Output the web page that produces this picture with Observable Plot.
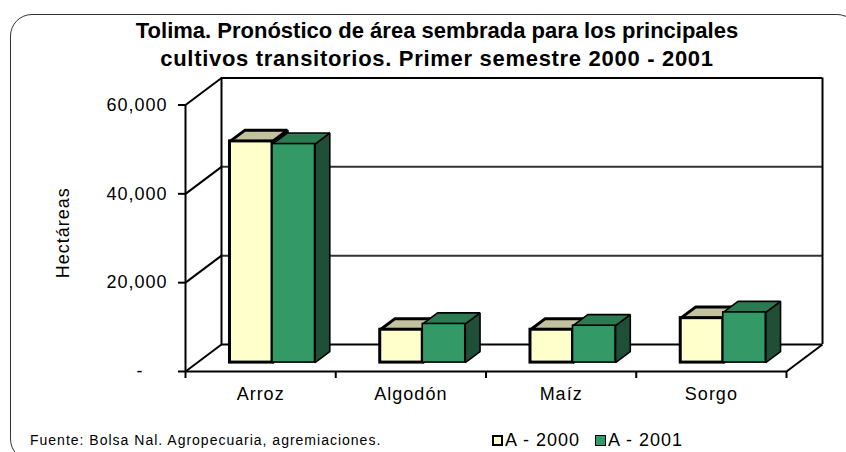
<!DOCTYPE html>
<html>
<head>
<meta charset="utf-8">
<script src="https://cdn.jsdelivr.net/npm/d3@7"></script>
<script src="https://cdn.jsdelivr.net/npm/@observablehq/plot@0.6"></script>
<style>
html, body { margin: 0; padding: 0; background: #fff; overflow: hidden; }
#wrap { position: relative; width: 846px; height: 452px; overflow: hidden; font-family: "Liberation Sans", Arial, sans-serif; color: #000; }
#frame { position: absolute; left: 10px; top: 14px; width: 849px; height: 447px; border: 1.5px solid #333; border-radius: 22px; box-sizing: border-box; }
#chart { position: absolute; left: 0; top: 0; }
#title { position: absolute; left: 0; width: 874px; top: 17px; text-align: center; font-weight: bold; font-size: 22px; line-height: 28px; white-space: nowrap; }
#title .l2 { letter-spacing: 0.7px; }
#caption { position: absolute; left: 30px; top: 433px; font-size: 14px; line-height: 14px; letter-spacing: 1px; white-space: nowrap; }
#legend { position: absolute; left: 492px; top: 431px; font-size: 18px; line-height: 18px; letter-spacing: 1px; white-space: nowrap; display: flex; align-items: center; }
#legend .sw { display: inline-block; box-sizing: border-box; width: 11px; height: 11px; border: 1px solid #000; margin-right: 2px; }
#legend .item { display: inline-flex; align-items: center; margin-right: 15px; }
</style>
</head>
<body>
<div id="wrap">
  <div id="frame"></div>
  <div id="chart"></div>
  <div id="title"><span class="l1">Tolima. Pronóstico de área sembrada para los principales</span><br><span class="l2">cultivos transitorios. Primer semestre 2000 - 2001</span></div>
  <div id="caption">Fuente: Bolsa Nal. Agropecuaria, agremiaciones.</div>
  <div id="legend"></div>
</div>
<script>
// ---- data ----
const categories = ["Arroz", "Algodón", "Maíz", "Sorgo"];
const series = ["A - 2000", "A - 2001"];
const values2000 = [49800, 7400, 7400, 10000];
const values2001 = [49200, 8700, 8300, 11300];
const yTicks = [0, 20000, 40000, 60000];
const yMax = 60000;

// ---- styles ----
const frontColors = ["#FFFFCC", "#339966"];
const topColors = ["#C2C2A0", "#2A7A52"];
const sideColors = ["#808066", "#1F4F36"];
const outlineWidths = [3, 1.6];

// ---- layout (pixels) ----
const W = 846, H = 452;
const mL = 185, mR = 24, mT = 77.5, mB = 81;
const DXP = 36, DYP = 27;            // oblique depth of the floor, px
const n = categories.length;
const bandPx = (W - mL - mR - DXP) / n;
const DXu = DXP / bandPx;             // depth in x units
const pxPerUnit = (H - mT - mB - DYP) / yMax;
const DYu = DYP / pxPerUnit;          // depth in y units
const BAR_W = 0.283, FRONT = 0.33, DEPTH = 0.41;

const rows = categories.flatMap((c, i) => [values2000, values2001].map((vals, s) => {
  const fx = FRONT * DXu, fy = FRONT * DYu;
  const x1 = i + 0.5 - BAR_W + s * BAR_W + fx;
  const x2 = x1 + BAR_W;
  return {category: c, series: series[s], s, value: vals[i], x1, x2, y0: fy, y1: vals[i] + fy, bx: DEPTH * DXu, by: DEPTH * DYu, id: c + "|" + s};
}));

function topPoly(r) {
  return [
    {id: r.id, x: r.x1, y: r.y1},
    {id: r.id, x: r.x2, y: r.y1},
    {id: r.id, x: r.x2 + r.bx, y: r.y1 + r.by},
    {id: r.id, x: r.x1 + r.bx, y: r.y1 + r.by}
  ];
}
function sidePoly(r) {
  return [
    {id: r.id, x: r.x2, y: r.y0},
    {id: r.id, x: r.x2, y: r.y1},
    {id: r.id, x: r.x2 + r.bx, y: r.y1 + r.by},
    {id: r.id, x: r.x2 + r.bx, y: r.y0 + r.by}
  ];
}

const barMarks = [0, 1].flatMap(s => {
  const rs = rows.filter(r => r.s === s);
  const sw = outlineWidths[s];
  return [
    Plot.line(rs.flatMap(sidePoly), {x: "x", y: "y", z: "id", fill: sideColors[s], stroke: "#000", strokeWidth: sw, strokeLinejoin: "miter", curve: "linear-closed"}),
    Plot.line(rs.flatMap(topPoly), {x: "x", y: "y", z: "id", fill: topColors[s], stroke: "#000", strokeWidth: sw, strokeLinejoin: "miter", curve: "linear-closed"}),
    Plot.rect(rs, {x1: "x1", x2: "x2", y1: "y0", y2: "y1", fill: frontColors[s], stroke: "#000", strokeWidth: sw, strokeLinejoin: "miter"})
  ];
});

const chart = Plot.plot({
  width: W,
  height: H,
  marginLeft: mL,
  marginRight: mR,
  marginTop: mT,
  marginBottom: mB,
  style: {fontFamily: "'Liberation Sans', Arial, sans-serif", fontSize: "18px", letterSpacing: "1px", background: "transparent", color: "#000"},
  x: {type: "linear", domain: [0, n + DXu]},
  y: {type: "linear", domain: [0, yMax + DYu]},
  marks: [
    // back wall gridlines
    Plot.ruleY(yTicks.filter(t => t > 0 && t < yMax), {y: d => d + DYu, x1: DXu, x2: n + DXu, stroke: "#333", strokeWidth: 2}),
    Plot.ruleY([0, yMax], {y: d => d + DYu, x1: DXu, x2: n + DXu, stroke: "#000", strokeWidth: 2}),
    // back wall vertical edges
    Plot.ruleX([DXu, n + DXu], {y1: DYu, y2: yMax + DYu, stroke: "#000", strokeWidth: 2}),
    // left wall diagonals
    Plot.link(yTicks, {x1: 0, y1: d => d, x2: DXu, y2: d => d + DYu, stroke: "#000", strokeWidth: 2}),
    // front axis line and floor
    Plot.ruleX([0], {y1: 0, y2: yMax, stroke: "#000", strokeWidth: 2}),
    Plot.ruleY([0], {x1: 0, x2: n, stroke: "#000", strokeWidth: 2}),
    Plot.link([n], {x1: d => d, y1: 0, x2: d => d + DXu, y2: DYu, stroke: "#000", strokeWidth: 2}),
    // axes
    Plot.axisY({ticks: yTicks, tickSize: 7, tickPadding: 11, strokeWidth: 2, label: null,
      tickFormat: d => d === 0 ? "-    " : d3.format(",")(d)}),
    Plot.axisX({ticks: d3.range(n + 1), tickSize: 7, strokeWidth: 2, label: null, tickFormat: () => ""}),
    Plot.text(categories, {x: (d, i) => i + 0.5, y: 0, dy: 23, fontSize: 18}),
    Plot.text(["Hectáreas"], {frameAnchor: "left", textAnchor: "middle", dx: -122, dy: 8, rotate: -90, fontSize: 18}),
    ...barMarks
  ]
});
document.getElementById("chart").appendChild(chart);

// legend
const legend = document.getElementById("legend");
series.forEach((name, s) => {
  const item = document.createElement("span");
  item.className = "item";
  const sw = document.createElement("span");
  sw.className = "sw";
  sw.style.background = frontColors[s];
  sw.style.borderWidth = s === 0 ? "2.5px" : "1px";
  item.appendChild(sw);
  item.appendChild(document.createTextNode(name));
  legend.appendChild(item);
});
</script>
</body>
</html>
